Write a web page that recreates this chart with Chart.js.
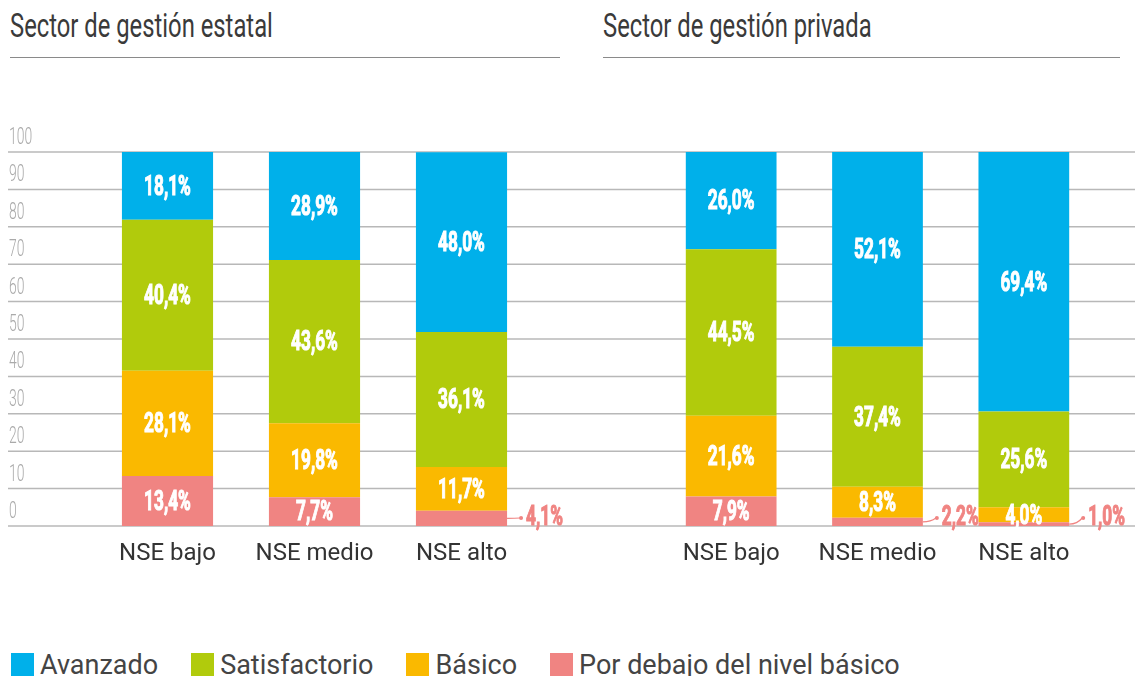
<!DOCTYPE html>
<html>
<head>
<meta charset="utf-8">
<script src="https://cdn.jsdelivr.net/npm/chart.js@4.4.1/dist/chart.umd.min.js"></script>
<style>
  body { margin: 0; background: #fff; }
  #wrap { position: relative; width: 1135px; height: 676px; overflow: hidden; font-family: Roboto, sans-serif; }
  .title { position: absolute; top: 5px; font-weight: 400; font-size: 34px; color: #3a3a3a; white-space: nowrap; transform-origin: left top; transform: scaleX(0.7); }
  .rule { position: absolute; top: 57px; height: 0; border-top: 1.5px solid #8a8a8a; }
  canvas { position: absolute; top: 100px; }
  #legend { position: absolute; left: 11px; top: 653px; display: flex; }
  .item { display: flex; align-items: center; margin-right: 33px; font-size: 27px; color: #444; line-height: 24px; }
  .sw { width: 23px; height: 24px; margin-right: 6px; }
</style>
</head>
<body>
<div id="wrap">
  <div class="title" style="left:10px">Sector de gestión estatal</div>
  <div class="rule" style="left:10px;width:550px"></div>
  <div class="title" style="left:603px">Sector de gestión privada</div>
  <div class="rule" style="left:603px;width:517px"></div>
  <canvas id="chartEstatal" width="585" height="480" style="left:0"></canvas>
  <canvas id="chartPrivada" width="550" height="480" style="left:585px"></canvas>
  <div id="legend"></div>
</div>
<script>
// categorias y series
const categories = ['NSE bajo', 'NSE medio', 'NSE alto'];
const seriesNames = ['Por debajo del nivel básico', 'Básico', 'Satisfactorio', 'Avanzado'];
const seriesColors = ['#F08482', '#FAB900', '#B1CB0C', '#00B0EA'];
const yTicks = [0, 10, 20, 30, 40, 50, 60, 70, 80, 90, 100];

// sector estatal
const estatalPorDebajo = [13.4, 7.7, 4.1];
const estatalBasico = [28.1, 19.8, 11.7];
const estatalSatisfactorio = [40.4, 43.6, 36.1];
const estatalAvanzado = [18.1, 28.9, 48.0];

// sector privado
const privadaPorDebajo = [7.9, 2.2, 1.0];
const privadaBasico = [21.6, 8.3, 4.0];
const privadaSatisfactorio = [44.5, 37.4, 25.6];
const privadaAvanzado = [26.0, 52.1, 69.4];

function fmt(v) {
    return v.toFixed(1).replace('.', ',') + '%'
}

function narrowText(ctx, text, x, y, align, sx, heavy) {
    ctx.save()
    ctx.translate(x, y)
    ctx.scale(sx, 1)
    ctx.textAlign = align
    ctx.textBaseline = 'middle'
    ctx.fillText(text, 0, 0)
    if (heavy) {
        ctx.strokeStyle = ctx.fillStyle
        ctx.lineWidth = 1.1
        ctx.strokeText(text, 0, 0)
    }
    ctx.restore()
}

// lineas horizontales a todo el ancho
const gridPlugin = {
    id: 'fullGrid',
    beforeDatasetsDraw(chart, args, opts) {
        const ctx = chart.ctx
        const y = chart.scales.y
        ctx.save()
        ctx.strokeStyle = '#b8b8b8'
        ctx.lineWidth = 1.5
        for (let v of yTicks) {
            const py = y.getPixelForValue(v)
            ctx.beginPath()
            ctx.moveTo(opts.x0, py)
            ctx.lineTo(opts.x1, py)
            ctx.stroke()
            if (opts.labels) {
                ctx.fillStyle = '#aaa'
                ctx.font = '300 24px Roboto'
                narrowText(ctx, String(v), 9, py - 14, 'left', 0.58, false)
            }
        }
        ctx.restore()
    }
}

const valueLabels = {
    id: 'valueLabels',
    afterDatasetsDraw(chart) {
        const ctx = chart.ctx
        ctx.save()
        ctx.font = 'bold 27px Roboto'
        chart.data.datasets.forEach((ds, i) => {
            const meta = chart.getDatasetMeta(i)
            meta.data.forEach((bar, j) => {
                const v = ds.data[j]
                const cy = (bar.y + bar.base) / 2 + 2
                if (i == 0 && v < 5) {
                    const xr = bar.x + bar.width / 2
                    const ty = bar.base - 8
                    ctx.strokeStyle = seriesColors[0]
                    ctx.fillStyle = seriesColors[0]
                    ctx.lineWidth = 1.2
                    ctx.beginPath()
                    ctx.moveTo(xr, cy - 2)
                    ctx.quadraticCurveTo(xr + 8, cy - 2, xr + 13, ty)
                    ctx.stroke()
                    ctx.beginPath()
                    ctx.arc(xr + 14, ty, 2, 0, Math.PI * 2)
                    ctx.fill()
                    narrowText(ctx, fmt(v), xr + 19, ty, 'left', 0.64, true)
                } else {
                    ctx.fillStyle = '#fff'
                    narrowText(ctx, fmt(v), bar.x, cy, 'center', 0.64, true)
                }
            })
        })
        ctx.restore()
    }
}

function makeChart(id, series, padL, padR, showLabels, x0, x1) {
    const datasets = series.map((data, i) => ({
        label: seriesNames[i],
        data: data,
        backgroundColor: seriesColors[i],
        borderWidth: 0,
        barPercentage: 0.62,
        categoryPercentage: 1
    }))
    return new Chart(document.getElementById(id).getContext('2d'), {
        type: 'bar',
        data: { labels: categories, datasets: datasets },
        plugins: [gridPlugin, valueLabels],
        options: {
            responsive: false,
            animation: false,
            layout: { padding: { left: padL, right: padR, top: 52, bottom: 0 } },
            plugins: {
                legend: { display: false },
                tooltip: { enabled: false },
                fullGrid: { x0: x0, x1: x1, labels: showLabels }
            },
            scales: {
                x: {
                    stacked: true,
                    grid: { display: false, drawTicks: false },
                    border: { display: false },
                    ticks: { color: '#333', font: { family: 'Roboto', size: 24 }, padding: 14 },
                    afterFit: (s) => { s.height = 54 }
                },
                y: {
                    stacked: true,
                    min: 0,
                    max: 100,
                    display: false
                }
            }
        }
    })
}

makeChart('chartEstatal',
    [estatalPorDebajo, estatalBasico, estatalSatisfactorio, estatalAvanzado],
    94, 50, true, 8, 585)
makeChart('chartPrivada',
    [privadaPorDebajo, privadaBasico, privadaSatisfactorio, privadaAvanzado],
    73, 38, false, 0, 550)

// leyenda
const legend = document.getElementById('legend')
for (let i = seriesNames.length - 1; i >= 0; i--) {
    const it = document.createElement('div')
    it.className = 'item'
    it.innerHTML = '<span class="sw" style="background:' + seriesColors[i] + '"></span>' + seriesNames[i]
    legend.appendChild(it)
}
</script>
</body>
</html>
